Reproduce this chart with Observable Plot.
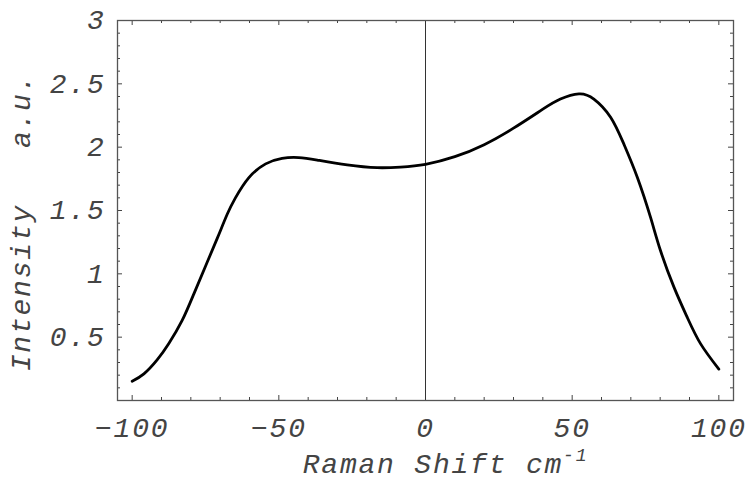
<!DOCTYPE html>
<html>
<head>
<meta charset="utf-8">
<script src="https://cdn.jsdelivr.net/npm/d3@7"></script>
<script src="https://cdn.jsdelivr.net/npm/@observablehq/plot@0.6"></script>
<style>
  html, body { margin: 0; padding: 0; background: #fff; }
</style>
</head>
<body>
<div id="chart"></div>
<script>
// Raman shift (cm^-1) and intensity (a.u.)
const shift = [-100, -96, -91.5, -87.5, -83, -79, -75, -71, -67.6, -64.8, -60.2, -54.5, -48.9, -43.2, -36.9, -26.7, -16.5, -8.5, 0, 10, 20, 30, 40, 46, 52.3, 57.4, 63.1, 67.6, 72.2, 76.7, 80.1, 84.7, 89.2, 93.8, 100];
const intensity = [0.152, 0.21, 0.32, 0.45, 0.63, 0.84, 1.06, 1.28, 1.47, 1.60, 1.76, 1.868, 1.912, 1.918, 1.898, 1.86, 1.838, 1.843, 1.865, 1.925, 2.02, 2.15, 2.30, 2.38, 2.421, 2.38, 2.237, 2.026, 1.763, 1.447, 1.184, 0.895, 0.658, 0.447, 0.248];

const xMajor = [-100, -50, 0, 50, 100];
const xMinor = [-90, -80, -70, -60, -40, -30, -20, -10, 10, 20, 30, 40, 60, 70, 80, 90];
const yMajor = [0.5, 1, 1.5, 2, 2.5, 3];
const yMinor = [0.1, 0.2, 0.3, 0.4, 0.6, 0.7, 0.8, 0.9, 1.1, 1.2, 1.3, 1.4, 1.6, 1.7, 1.8, 1.9, 2.1, 2.2, 2.3, 2.4, 2.6, 2.7, 2.8, 2.9];
const xLabel = "Raman Shift cm";
const xLabelSup = "-1";
const yLabel = "Intensity   a.u.";

const data = shift.map((s, i) => ({shift: s, intensity: intensity[i]}));

const W = 751, H = 480;
const mL = 117, mR = 18, mT = 20, mB = 80;
const fw = W - mL - mR, fh = H - mT - mB;
const tickColor = "#444";
const textColor = "#444";
const font = "'Liberation Mono', 'DejaVu Sans Mono', monospace";
const fmt = d => d < 0 ? "\u2212" + (-d) : String(d);

const chart = Plot.plot({
  width: W,
  height: H,
  marginLeft: mL,
  marginRight: mR,
  marginTop: mT,
  marginBottom: mB,
  style: {fontFamily: font, fontStyle: "italic", fontSize: "28px", letterSpacing: "1.8px", color: textColor, background: "#fff"},
  x: {domain: [-105, 105], axis: null},
  y: {domain: [0, 3], axis: null},
  marks: [
    // ticks bottom
    Plot.tickX(xMajor, {x: d => d, insetTop: fh - 5, stroke: tickColor}),
    Plot.tickX(xMinor, {x: d => d, insetTop: fh - 3, stroke: tickColor}),
    // ticks top
    Plot.tickX(xMajor, {x: d => d, insetBottom: fh - 5, stroke: tickColor}),
    Plot.tickX(xMinor, {x: d => d, insetBottom: fh - 3, stroke: tickColor}),
    // ticks left
    Plot.tickY(yMajor, {y: d => d, insetRight: fw - 5, stroke: tickColor}),
    Plot.tickY(yMinor, {y: d => d, insetRight: fw - 3, stroke: tickColor}),
    // ticks right
    Plot.tickY(yMajor, {y: d => d, insetLeft: fw - 5, stroke: tickColor}),
    Plot.tickY(yMinor, {y: d => d, insetLeft: fw - 3, stroke: tickColor}),
    Plot.ruleX([0], {stroke: "#333", strokeWidth: 1}),
    Plot.frame({stroke: "#555", strokeWidth: 1.3}),
    Plot.line(data, {x: "shift", y: "intensity", stroke: "#000", strokeWidth: 2.8, curve: "natural"}),
    Plot.axisX(xMajor, {anchor: "bottom", tickSize: 0, tickPadding: 17, tickFormat: fmt, fill: textColor, fontSize: 28, label: null}),
    Plot.axisY(yMajor, {anchor: "left", tickSize: 0, tickPadding: 12, tickFormat: fmt, fill: textColor, fontSize: 28, label: null}),
    Plot.text([xLabel], {frameAnchor: "bottom", text: d => d, dx: 20, dy: 64, fill: textColor, fontSize: 28, lineAnchor: "middle", textAnchor: "middle"}),
    Plot.text([yLabel], {frameAnchor: "left", text: d => d, dx: -96, dy: 12, rotate: -90, fill: textColor, fontSize: 28, lineAnchor: "middle", textAnchor: "middle"})
  ]
});

// superscript "-1" on the x label, as part of the same text element
d3.select(chart).selectAll("text")
  .filter(function() { return this.textContent === xLabel; })
  .append("tspan")
  .attr("dy", "-0.7em")
  .attr("font-size", "18px")
  .text(xLabelSup);

document.getElementById("chart").appendChild(chart);
</script>
</body>
</html>
